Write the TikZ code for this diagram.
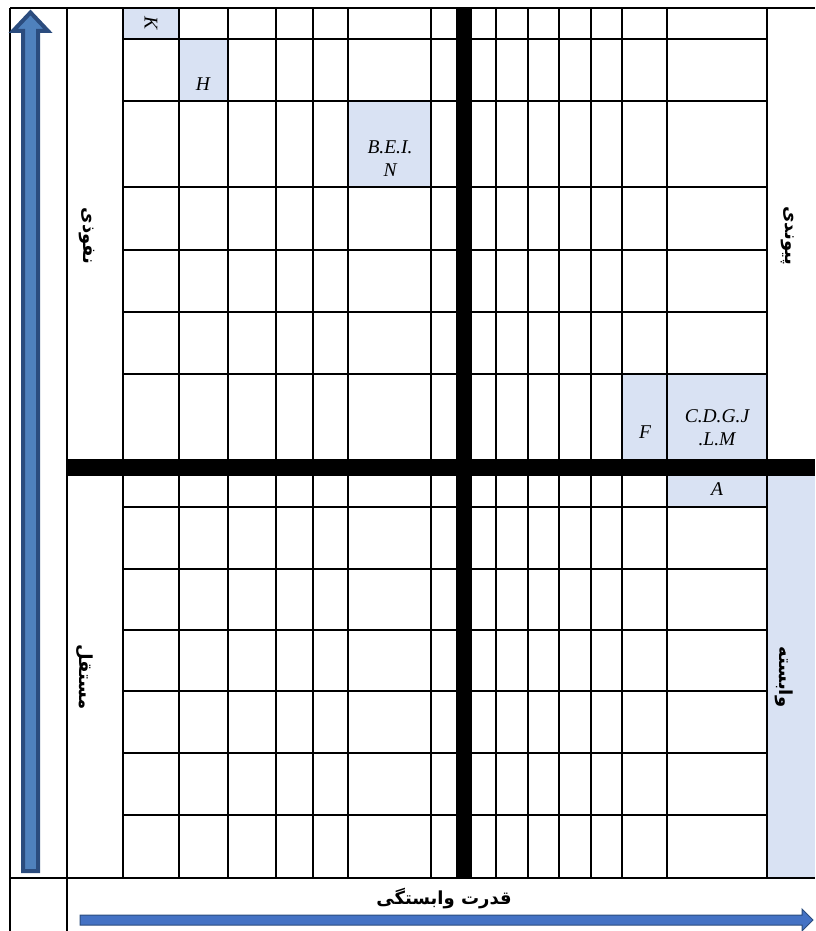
\documentclass[tikz,border=0pt]{standalone}
\usepackage{fontspec}
\setmainfont{Liberation Serif}
\newfontfamily\farsifont[Script=Arabic]{DejaVu Sans}
\TeXXeTstate=1
\usepackage{tikz}
\usetikzlibrary{positioning}
\definecolor{cellblue}{HTML}{D9E2F3}
\definecolor{arrowfill}{HTML}{4F81BD}
\definecolor{arrowdraw}{HTML}{2B4C7E}
\definecolor{axisfill}{HTML}{4472C4}
\tikzset{gridline/.style={line width=2.2pt}}
\tikzset{axisline/.style={line width=16.5pt}}
\tikzset{cellmark/.style={font=\itshape\fontsize{19.5}{23}\selectfont, align=center, inner sep=0pt}}
\tikzset{sidelabel/.style={font=\farsifont\bfseries\fontsize{18}{20}\selectfont, rotate=-90, inner sep=0pt}}

\begin{document}
\begin{tikzpicture}[x=1pt, y=-1pt]
  \useasboundingbox (0,0) rectangle (815,931);
  % shaded cells
  \fill[cellblue] (123,8) rectangle (179,39);
  \fill[cellblue] (179,39) rectangle (228,101);
  \fill[cellblue] (348,101) rectangle (431,187);
  \fill[cellblue] (622,374) rectangle (667,459);
  \fill[cellblue] (667,374) rectangle (767,459);
  \fill[cellblue] (667,476) rectangle (767,507);
  \fill[cellblue] (767,476) rectangle (815,878);
  % grid
  \foreach \x in {123,179,228,276,313,348,431,496,528,559,591,622,667,767}
    \draw[gridline] (\x,8) -- (\x,878);
  \foreach \y in {39,101,187,250,312,374,507,569,630,691,753,815}
    \draw[gridline] (123,\y) -- (767,\y);
  \draw[gridline] (10,8) -- (815,8);
  \draw[gridline] (10,878) -- (815,878);
  \draw[gridline] (10,8) -- (10,931);
  \draw[gridline] (67,8) -- (67,931);
  \draw[axisline] (464,8) -- (464,878);
  \draw[axisline] (67,467.5) -- (815,467.5);
  % arrows
  \draw[fill=arrowfill, draw=arrowdraw, line width=4pt]
    (23,871) -- (23,31) -- (13,31) -- (30.5,12.5) -- (48,31) -- (38,31) -- (38,871) -- cycle;
  \draw[fill=axisfill, draw=arrowdraw, line width=1pt]
    (80,915) -- (802,915) -- (802,909) -- (813,920) -- (802,931) -- (802,925) -- (80,925) -- cycle;
  % cell labels
  \node[cellmark, rotate=-90] (cellK) at (151,23) {K};
  \node[cellmark] (cellH) at (203,84) {H};
  \node[cellmark] (cellBEIN) at (390,159) {B.E.I.\\N};
  \node[cellmark] (cellF) at (645,432) {F};
  \node[cellmark] (cellCDG) at (717,428) {C.D.G.J\\.L.M};
  \node[cellmark] (cellA) at (717,489) {A};
  % side labels
  \node[sidelabel] (lblInfluence) at (87,236) {\beginR نفوذی\endR};
  \node[sidelabel] (lblIndependent) at (85,677) {\beginR مستقل\endR};
  \node[sidelabel] (lblLinkage) at (788,236) {\beginR پیوندی\endR};
  \node[sidelabel] (lblDependent) at (784,677) {\beginR وابسته\endR};
  \node[font=\farsifont\bfseries\fontsize{18}{20}\selectfont, inner sep=0pt] (lblPower) at (444,898) {\beginR قدرت وابستگی\endR};
\end{tikzpicture}
\end{document}
